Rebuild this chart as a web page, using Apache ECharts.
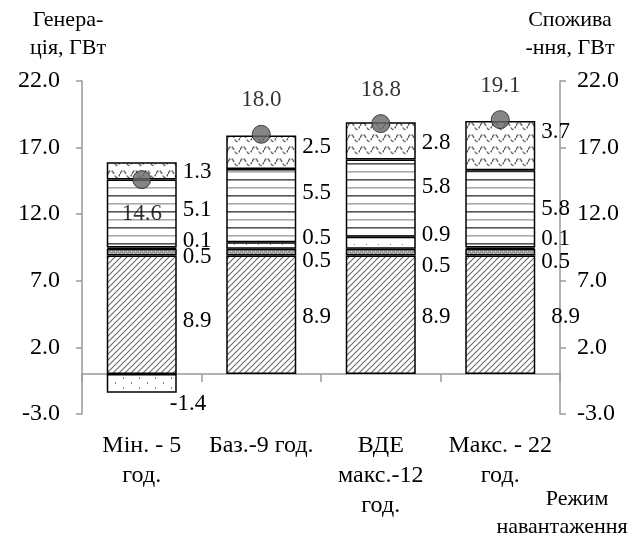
<!DOCTYPE html>
<html>
<head>
<meta charset="utf-8">
<script src="https://cdn.jsdelivr.net/npm/echarts@6/dist/echarts.min.js"></script>
<style>
  html, body { margin: 0; padding: 0; background: #fff; }
  #chart { width: 635px; height: 540px; }
</style>
</head>
<body>
<div id="chart"></div>
<script>
// категорії (режими навантаження)
const categories = ['Мін. - 5\nгод.', 'Баз.-9 год.', 'ВДЕ\nмакс.-12\nгод.', 'Макс. - 22\nгод.'];

// складові генерації, ГВт
const baseGen = [8.9, 8.9, 8.9, 8.9];
const bandGen = [0.5, 0.5, 0.5, 0.5];
const smallGen = [0.1, 0.5, 0.9, 0.1];
const linedGen = [5.1, 5.5, 5.8, 5.8];
const wavyGen = [1.3, 2.5, 2.8, 3.7];
const negGen = [-1.4, null, null, null];

// споживання, ГВт
const consumption = [14.6, 18.0, 18.8, 19.1];

// шкала осей
const yMin = -3;
const yMax = 22;
const yStep = 5;

// зсуви підписів [dx, dy] для кожного стовпця
const nudgeBase = [[0, 6], [0, 2], [0, 2], [10, 2]];
const nudgeBand = [[0, 5], [0, 9], [0, 14], [0, 10]];
const nudgeSmall = [[0, -7], [0, -8], [0, -8], [0, -9]];
const nudgeLined = [[0, -4], [0, -13], [0, -11], [0, 0]];
const nudgeWavy = [[0, 1], [0, -5], [0, 2], [0, -14]];
const nudgeNeg = [[-13, 21], [0, 0], [0, 0], [0, 0]];

const FONT = '"Liberation Serif", "Times New Roman", serif';
const FS = 22;

// текстури заливки
function makeTile(w, h, bg, draw) {
  const c = document.createElement('canvas');
  c.width = w;
  c.height = h;
  const ctx = c.getContext('2d');
  ctx.fillStyle = bg;
  ctx.fillRect(0, 0, w, h);
  draw(ctx);
  return { image: c, repeat: 'repeat' };
}

const hatchFill = makeTile(6, 6, '#fff', ctx => {
  ctx.strokeStyle = '#6a6a6a';
  ctx.lineWidth = 1.1;
  ctx.beginPath();
  ctx.moveTo(-1, 7); ctx.lineTo(7, -1);
  ctx.moveTo(-1, 1); ctx.lineTo(1, -1);
  ctx.moveTo(5, 7); ctx.lineTo(7, 5);
  ctx.stroke();
});

const bandFill = makeTile(4, 4, '#9a9a9a', ctx => {
  ctx.fillStyle = '#e0e0e0';
  ctx.fillRect(1, 1, 1, 1);
  ctx.fillRect(3, 3, 1, 1);
});

const dotFill = makeTile(12, 8, '#fff', ctx => {
  ctx.fillStyle = '#777';
  ctx.fillRect(6, 4, 1, 1);
});

const linedFill = makeTile(4, 16, '#fff', ctx => {
  ctx.fillStyle = '#555';
  ctx.fillRect(0, 3, 4, 1.6);
  ctx.fillStyle = '#aaa';
  ctx.fillRect(0, 11, 4, 1.6);
});

const wavyFill = makeTile(12, 12, '#fff', ctx => {
  ctx.strokeStyle = '#666';
  ctx.lineWidth = 1.5;
  ctx.setLineDash([4, 1.5]);
  ctx.beginPath();
  ctx.moveTo(0, 6);
  ctx.quadraticCurveTo(3, -1, 6, 6);
  ctx.quadraticCurveTo(9, 13, 12, 6);
  ctx.stroke();
});

const negFill = makeTile(16, 10, '#fff', ctx => {
  ctx.fillStyle = '#888';
  ctx.fillRect(3, 2, 1, 2);
  ctx.fillRect(11, 7, 1, 2);
});

function barSeries(name, values, fill, nudges) {
  return {
    name: name,
    type: 'bar',
    stack: 'gen',
    barWidth: 70,
    data: values.map((v, i) => ({
      value: v,
      label: { offset: nudges[i] }
    })),
    itemStyle: { color: fill, borderColor: '#000', borderWidth: 1.5 },
    label: {
      show: true,
      position: 'right',
      distance: 6,
      fontFamily: FONT,
      fontSize: 23,
      color: '#000',
      formatter: p => (p.value == null ? '' : Number(p.value).toFixed(1))
    },
    emphasis: { disabled: true }
  };
}

function axisY(position, name, pad) {
  return {
    type: 'value',
    position: position,
    min: yMin,
    max: yMax,
    interval: yStep,
    name: name,
    nameLocation: 'end',
    nameGap: 19,
    nameTextStyle: {
      fontFamily: FONT,
      fontSize: FS,
      color: '#000',
      align: 'center',
      lineHeight: 28,
      padding: pad
    },
    axisLine: { show: true, lineStyle: { color: '#999', width: 1.5 } },
    axisTick: { show: true, length: 6, lineStyle: { color: '#999', width: 1.5 } },
    axisLabel: {
      margin: position === 'left' ? 22 : 17,
      fontFamily: FONT,
      fontSize: 24,
      color: '#000',
      formatter: v => v.toFixed(1)
    },
    splitLine: { show: false }
  };
}

const chart = echarts.init(document.getElementById('chart'));

chart.setOption({
  backgroundColor: '#fff',
  animation: false,
  grid: { left: 82, right: 75, top: 81, bottom: 126, containLabel: false, outerBoundsMode: 'none' },
  xAxis: {
    type: 'category',
    data: categories,
    axisLine: { onZero: true, lineStyle: { color: '#999', width: 1.5 } },
    axisTick: { show: true, length: 8, lineStyle: { color: '#999', width: 1.5 } },
    axisLabel: {
      interval: 0,
      margin: 17,
      fontFamily: FONT,
      fontSize: 24,
      lineHeight: 30,
      color: '#000'
    }
  },
  yAxis: [
    axisY('left', 'Генера-\nція, ГВт', [0, 28, 0, 0]),
    axisY('right', 'Спожива\n-ння, ГВт', [0, 0, 0, 20])
  ],
  series: [
    barSeries('base', baseGen, hatchFill, nudgeBase),
    barSeries('band', bandGen, bandFill, nudgeBand),
    barSeries('small', smallGen, dotFill, nudgeSmall),
    barSeries('lined', linedGen, linedFill, nudgeLined),
    barSeries('wavy', wavyGen, wavyFill, nudgeWavy),
    barSeries('neg', negGen, negFill, nudgeNeg),
    {
      name: 'Споживання',
      type: 'scatter',
      yAxisIndex: 1,
      z: 10,
      symbol: 'circle',
      symbolSize: 18,
      data: consumption.map((v, i) => ({
        value: v,
        label: i === 0 ? { position: 'bottom' } : {}
      })),
      itemStyle: { color: '#666', borderColor: '#222', borderWidth: 1 },
      label: {
        show: true,
        position: 'top',
        distance: 13,
        fontFamily: FONT,
        fontSize: 23,
        color: '#000',
        formatter: p => p.value.toFixed(1)
      },
      emphasis: { disabled: true }
    }
  ],
  graphic: [
    {
      type: 'text',
      x: 577,
      y: 488,
      style: {
        text: 'Режим',
        font: FS + 'px ' + FONT,
        fill: '#000',
        align: 'center',
        verticalAlign: 'top'
      }
    },
    {
      type: 'text',
      x: 562,
      y: 516,
      style: {
        text: 'навантаження',
        font: FS + 'px ' + FONT,
        fill: '#000',
        align: 'center',
        verticalAlign: 'top'
      }
    }
  ]
});
</script>
</body>
</html>
